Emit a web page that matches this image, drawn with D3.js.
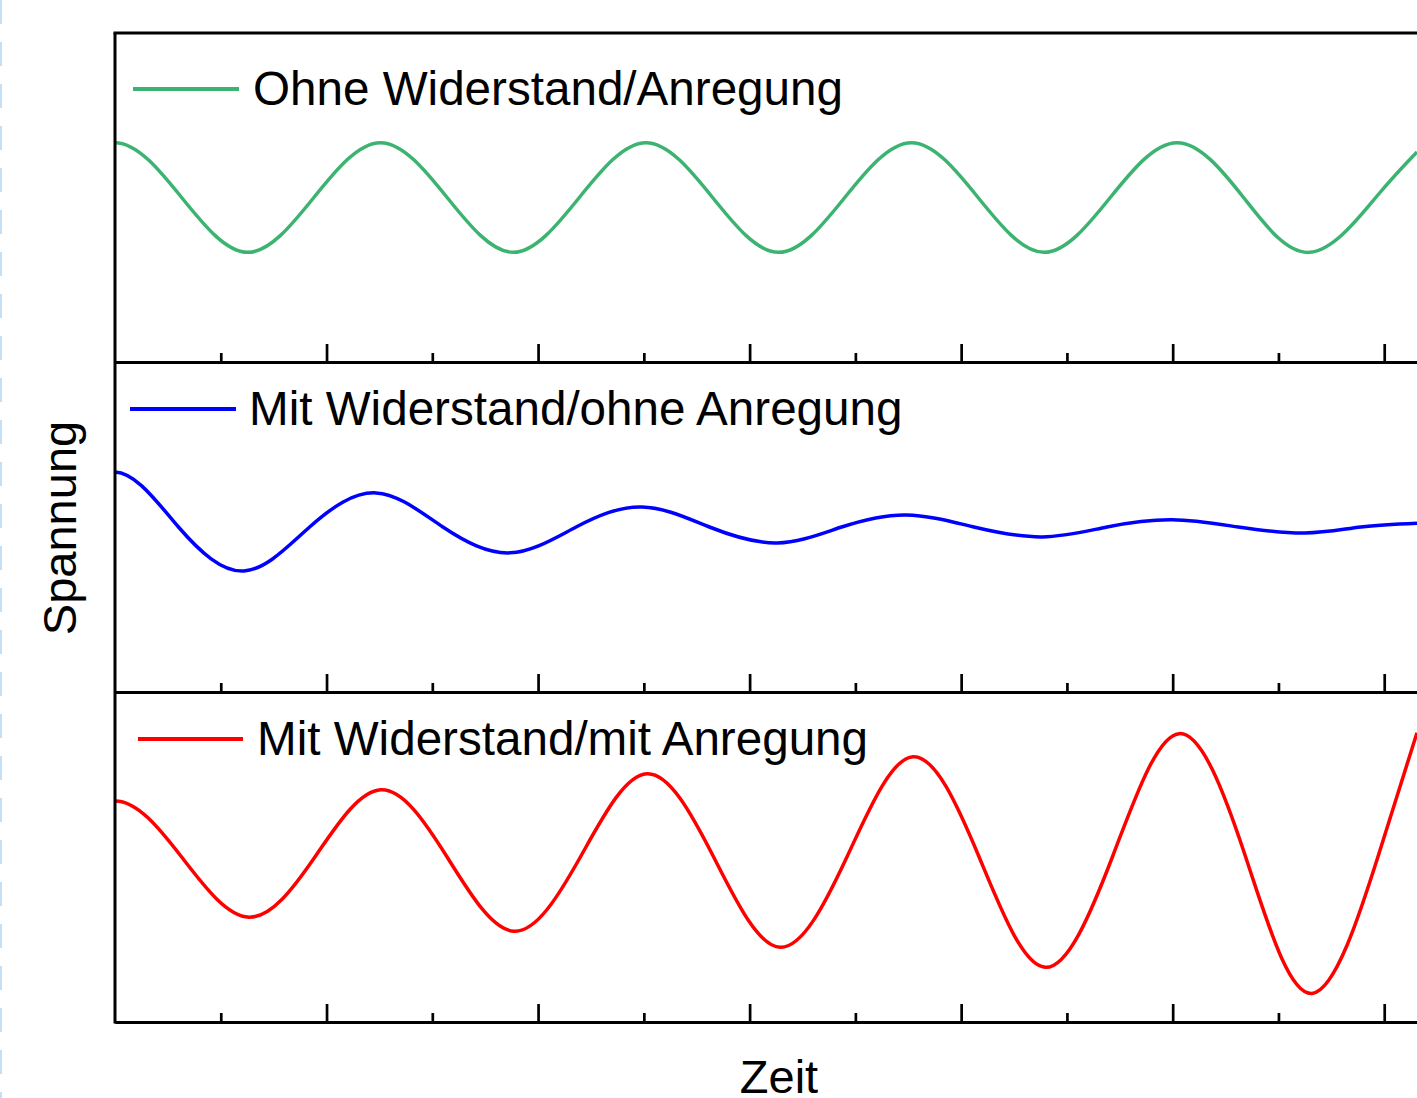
<!DOCTYPE html>
<html>
<head>
<meta charset="utf-8">
<style>
  body { margin: 0; background: #fff; }
  svg { display: block; }
  text { font-family: "Liberation Sans", Arial, Helvetica, sans-serif; fill: #000; }
  .axis path, .axis line { stroke: #000; fill: none; }
  .axis path { stroke-width: 3px; }
  .axis line { stroke-width: 2.7px; }
  .curve { fill: none; stroke-width: 3.5px; }
</style>
</head>
<body>
<script src="https://cdn.jsdelivr.net/npm/d3@7"></script>
<script>

  // x ticks (time units, one minor step per unit)
  var majorTicks = [2, 4, 6, 8, 10, 12],
      minorTicks = [1, 3, 5, 7, 9, 11];

  var xLabel = "Zeit",
      yLabel = "Spannung";

  // green: ohne Widerstand/Anregung (first point lies left of the frame, clipped)
  var greenT = [-0.63, 0, 0.63, 1.255, 1.88, 2.51, 3.14, 3.765, 4.39, 5.02, 5.65, 6.275, 6.9, 7.53, 8.16, 8.785, 9.41, 10.04, 10.67, 11.295, 11.92, 12.31];
  var greenV = [0, 1, 0, -1, 0, 1, 0, -1, 0, 1, 0, -1, 0, 1, 0, -1, 0, 1, 0, -1, 0, 0.83];

  // blue: mit Widerstand/ohne Anregung
  var blueT = [-0.6, 0, 0.6, 1.22, 1.84, 2.468, 3.1, 3.735, 4.36, 4.983, 5.62, 6.26, 6.87, 7.48, 8.12, 8.766, 9.38, 9.995, 10.62, 11.25, 11.78, 12.31];
  var blueV = [0, 1.0, 0, -0.80, 0, 0.62, 0, -0.47, 0, 0.365, 0, -0.29, 0, 0.22, 0, -0.18, 0, 0.13, 0, -0.11, 0, 0.07];

  // red: mit Widerstand/mit Anregung
  var redT = [-0.63, 0, 0.63, 1.267, 1.89, 2.515, 3.14, 3.773, 4.40, 5.03, 5.66, 6.288, 6.92, 7.546, 8.17, 8.794, 9.43, 10.06, 10.69, 11.319, 11.94, 12.31];
  var redV = [0, 1.02, 0, -1.094, 0, 1.222, 0, -1.35, 0, 1.514, 0, -1.641, 0, 1.824, 0, -2.006, 0, 2.243, 0, -2.48, 0, 2.26];

  var series = [
    { name: "Ohne Widerstand/Anregung", color: "#3cb371", t: greenT, v: greenV },
    { name: "Mit Widerstand/ohne Anregung", color: "#0000ff", t: blueT, v: blueV },
    { name: "Mit Widerstand/mit Anregung", color: "#ff0000", t: redT, v: redV }
  ];

  var width = 1417, height = 1098,
      left = 115, right = 1417,
      panels = [[33, 362], [362, 692], [692, 1022]],
      legendPos = [{ x1: 133, x2: 239, y: 89, tx: 253, ty: 105 },
                   { x1: 130, x2: 236, y: 409, tx: 249, ty: 425 },
                   { x1: 138, x2: 243, y: 739, tx: 257, ty: 755 }];

  var svg = d3.select("body").append("svg")
      .attr("width", width)
      .attr("height", height);

  svg.append("clipPath")
      .attr("id", "plot")
      .append("rect")
      .attr("x", left).attr("y", 0)
      .attr("width", right - left).attr("height", height);

  // dashed guide on the left edge
  svg.append("line")
      .attr("x1", 1).attr("x2", 1)
      .attr("y1", 0).attr("y2", height)
      .attr("stroke", "#c4e0f4")
      .attr("stroke-width", 2)
      .attr("stroke-dasharray", "24,18");

  var x = d3.scaleLinear()
      .domain([0, 12.31])
      .range([left, right]);

  series.forEach(function(s, i) {
    var p = panels[i];
    var y = d3.scaleLinear()
        .domain([-3, 3])
        .range([p[1], p[0]]);

    var pts = s.t.map(function(t, j) { return [t, s.v[j]]; });

    var line = d3.line()
        .x(function(d) { return x(d[0]); })
        .y(function(d) { return y(d[1]); })
        .curve(d3.curveNatural);

    svg.append("path")
        .datum(pts)
        .attr("class", "curve")
        .attr("clip-path", "url(#plot)")
        .attr("stroke", s.color)
        .attr("d", line);

    // bottom axis of the panel, ticks pointing inward
    svg.append("g")
        .attr("class", "axis")
        .attr("transform", "translate(0," + p[1] + ")")
        .call(d3.axisBottom(x).tickValues(minorTicks).tickSize(-9).tickSizeOuter(0).tickFormat(""));

    svg.append("g")
        .attr("class", "axis")
        .attr("transform", "translate(0," + p[1] + ")")
        .call(d3.axisBottom(x).tickValues(majorTicks).tickSize(-18).tickSizeOuter(0).tickFormat(""));

    var lg = legendPos[i];
    svg.append("line")
        .attr("x1", lg.x1).attr("x2", lg.x2)
        .attr("y1", lg.y).attr("y2", lg.y)
        .attr("stroke", s.color)
        .attr("stroke-width", 4);

    svg.append("text")
        .attr("x", lg.tx)
        .attr("y", lg.ty)
        .style("font-size", "47.6px")
        .text(s.name);
  });

  // frame: top and left
  svg.append("line")
      .attr("x1", left - 1.5).attr("x2", right)
      .attr("y1", 33).attr("y2", 33)
      .attr("stroke", "#000").attr("stroke-width", 3);

  svg.append("line")
      .attr("x1", left).attr("x2", left)
      .attr("y1", 33).attr("y2", 1023.5)
      .attr("stroke", "#000").attr("stroke-width", 3);

  svg.append("text")
      .attr("x", 779)
      .attr("y", 1093)
      .attr("text-anchor", "middle")
      .style("font-size", "47px")
      .text(xLabel);

  svg.append("text")
      .attr("transform", "translate(76,528) rotate(-90)")
      .attr("text-anchor", "middle")
      .style("font-size", "47px")
      .text(yLabel);

</script>
</body>
</html>
